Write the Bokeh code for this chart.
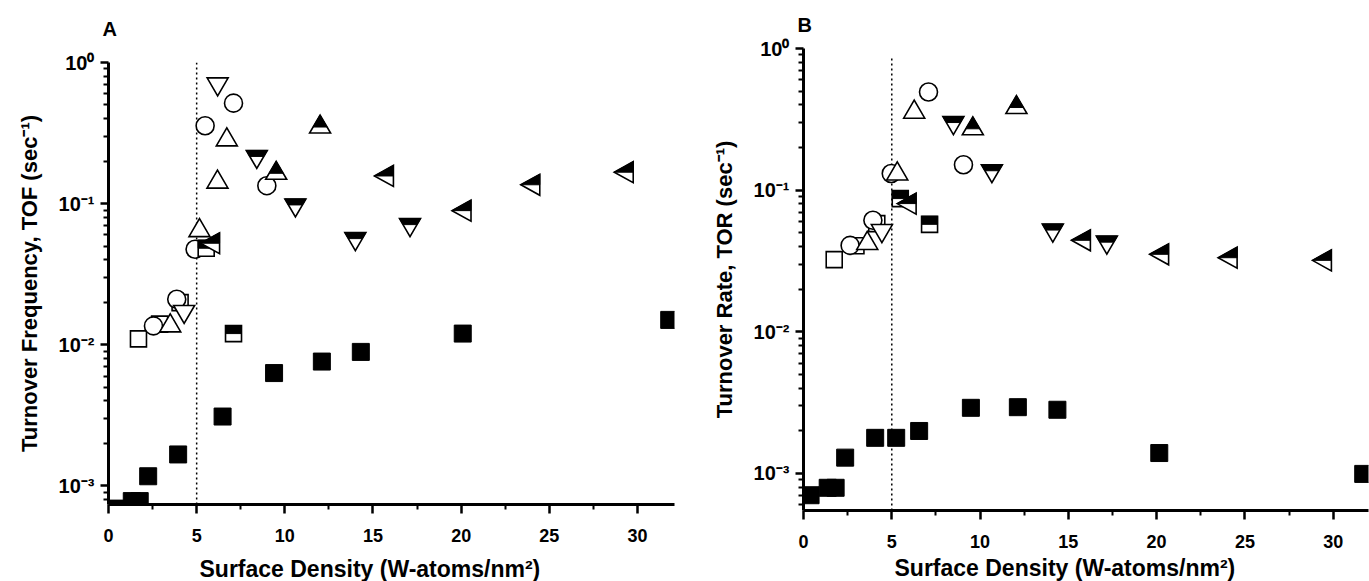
import math
from bokeh.plotting import figure
from bokeh.layouts import row
from bokeh.models import FixedTicker, Title
from bokeh.embed import file_html
from bokeh.resources import INLINE

FONT = "Liberation Sans"

# ---------------- Panel A: turnover frequency ----------------
a_sq_open_x = [1.70, 2.90, 4.06]
a_sq_open_y = [0.0110, 0.0140, 0.0199]
a_circ_x = [2.55, 3.87, 4.91, 5.48, 7.09, 8.98]
a_circ_y = [0.0136, 0.0210, 0.0475, 0.356, 0.515, 0.134]
a_up_open_x = [3.50, 5.16, 6.18, 6.71]
a_up_open_y = [0.0136, 0.0644, 0.142, 0.283]
a_dn_open_x = [4.29, 6.19]
a_dn_open_y = [0.0172, 0.705]
a_sq_half_x = [5.54, 7.09]
a_sq_half_y = [0.0483, 0.0120]
a_up_half_x = [9.51, 12.0]
a_up_half_y = [0.164, 0.349]
a_dn_half_x = [8.41, 10.6, 14.0, 17.1]
a_dn_half_y = [0.216, 0.0979, 0.0565, 0.0710]
a_lt_half_x = [5.94, 15.80, 20.20, 24.10, 29.40]
a_lt_half_y = [0.0524, 0.157, 0.0892, 0.136, 0.167]
a_sq_fill_x = [0.40, 1.32, 1.77, 2.25, 3.95, 6.47, 9.39, 12.1, 14.31, 20.09, 31.8]
a_sq_fill_y = [0.00069, 0.00078, 0.00078, 0.00117, 0.00167, 0.0031, 0.0063,
               0.0076, 0.0089, 0.0120, 0.0150]

# ---------------- Panel B: turnover rate ----------------
b_sq_open_x = [1.74, 2.97, 4.15]
b_sq_open_y = [0.0323, 0.0405, 0.058]
b_circ_x = [2.64, 3.93, 4.97, 7.08, 9.06]
b_circ_y = [0.0407, 0.0612, 0.131, 0.493, 0.151]
b_up_open_x = [3.61, 5.31, 6.27]
b_up_open_y = [0.042, 0.130, 0.355]
b_dn_open_x = [4.44]
b_dn_open_y = [0.0518]
b_sq_half_x = [5.48, 7.14]
b_sq_half_y = [0.0871, 0.0573]
b_up_half_x = [9.59, 12.06]
b_up_half_y = [0.271, 0.383]
b_dn_half_x = [8.49, 10.67, 14.12, 17.18]
b_dn_half_y = [0.300, 0.137, 0.0522, 0.0429]
b_lt_half_x = [6.02, 15.89, 20.32, 24.20, 29.54]
b_lt_half_y = [0.0803, 0.0442, 0.0352, 0.0333, 0.0319]
b_sq_fill_x = [0.40, 1.37, 1.82, 2.36, 4.06, 5.25, 6.55, 9.48, 12.14, 14.38, 20.15, 31.7]
b_sq_fill_y = [0.00070, 0.00079, 0.00079, 0.00129, 0.00178, 0.00178, 0.00199,
               0.00290, 0.00293, 0.00281, 0.00139, 0.00099]

# ---------------- axes ----------------
x_major = [0, 5, 10, 15, 20, 25, 30]
x_minor = [2.5, 7.5, 12.5, 17.5, 22.5, 27.5]
y_major = [0.001, 0.01, 0.1, 1.0]
y_labels = ["10\u207b\u00b3", "10\u207b\u00b2", "10\u207b\u00b9", "10\u2070"]
y_minor = [k * 10.0 ** e for e in (-4, -3, -2, -1) for k in range(2, 10)]
monolayer_x = 5.0

x_title = "Surface Density (W-atoms/nm\u00b2)"

# marker outlines in pixels around the data point (y up), centroid-centred
TW, TH = 21.0, 18.0          # up / down triangles
LW, LH = 19.0, 21.0          # left-pointing triangle
SQ = 16.0                    # half-filled square
UP_TRI = [(-TW / 2, -TH / 3), (TW / 2, -TH / 3), (0, 2 * TH / 3)]
UP_TOP = [(-TW / 3, 0), (TW / 3, 0), (0, 2 * TH / 3)]
DN_TRI = [(-TW / 2, TH / 3), (TW / 2, TH / 3), (0, -2 * TH / 3)]
DN_TOP = [(-TW / 2, TH / 3), (TW / 2, TH / 3), (TW / 3, 0), (-TW / 3, 0)]
LT_TRI = [(-2 * LW / 3, 0), (LW / 3, LH / 2), (LW / 3, -LH / 2)]
LT_TOP = [(-2 * LW / 3, 0), (LW / 3, LH / 2), (LW / 3, 0)]
SQ_TOP = [(-SQ / 2, 0), (SQ / 2, 0), (SQ / 2, SQ / 2), (-SQ / 2, SQ / 2)]

TOP_BORDER = 72


def outline_at(xs, ys, shape, ppx, ppd):
    """Place a pixel-sized outline around each data point (linear x, log y)."""
    px, py = [], []
    for x, y in zip(xs, ys):
        px.append([x + dx / ppx for dx, dy in shape])
        py.append([y * 10 ** (dy / ppd) for dx, dy in shape])
    return px, py


def panel(letter, ylabel, x_end, y_lo, fw, fh, left, right, bottom,
          letter_standoff, xtitle_standoff, data, line_top):
    p = figure(x_range=(0, x_end), y_range=(y_lo, 1.0), y_axis_type="log",
               frame_width=fw, frame_height=fh,
               min_border_left=left, min_border_right=right,
               min_border_top=TOP_BORDER, min_border_bottom=bottom,
               output_backend="svg", toolbar_location=None)
    p.outline_line_color = None
    p.xgrid.visible = False
    p.ygrid.visible = False
    p.background_fill_color = "white"
    p.border_fill_color = "white"

    for ax in (p.xaxis[0], p.yaxis[0]):
        ax.axis_line_width = 3
        ax.axis_line_color = "black"
        ax.major_tick_line_width = 2.5
        ax.minor_tick_line_width = 2
        ax.major_tick_in = 0
        ax.minor_tick_in = 0
        ax.major_label_text_font = FONT
        ax.major_label_text_font_style = "bold"
        ax.major_label_text_color = "black"
        ax.axis_label_text_font = FONT
        ax.axis_label_text_font_style = "bold"
        ax.axis_label_text_color = "black"
        ax.axis_label_text_font_size = "22px"

    xa = p.xaxis[0]
    xa.ticker = FixedTicker(ticks=x_major, minor_ticks=x_minor)
    xa.major_tick_out = 9
    xa.minor_tick_out = 5
    xa.major_label_text_font_size = "18px"
    xa.major_label_standoff = 15

    ya = p.yaxis[0]
    ya.ticker = FixedTicker(ticks=y_major, minor_ticks=y_minor)
    ya.major_label_overrides = {v: s for v, s in zip(y_major, y_labels)}
    ya.major_tick_out = 8
    ya.minor_tick_out = 5
    ya.major_label_text_font_size = "20px"
    ya.major_label_standoff = 6
    ya.axis_label = ylabel
    ya.axis_label_standoff = 14

    # panel letter above the frame, x title below the axis
    p.add_layout(Title(text=letter, align="left", offset=-6,
                       standoff=letter_standoff, text_font=FONT,
                       text_font_size="20px", text_font_style="bold",
                       text_color="black"), "above")
    p.add_layout(Title(text=x_title, align="left", offset=91,
                       vertical_align="top", standoff=xtitle_standoff,
                       text_font=FONT, text_font_size="23px",
                       text_font_style="bold", text_color="black"), "below")

    ppx = fw / x_end
    ppd = fh / (0 - math.log10(y_lo))

    # monolayer marker line
    p.segment(x0=[monolayer_x], y0=[y_lo], x1=[monolayer_x], y1=[line_top],
              line_color="black", line_width=1.5, line_dash="2 3")

    (sqx, sqy, cx, cy, ux, uy, dx_, dy_, hsx, hsy, hux, huy,
     hdx, hdy, hlx, hly, fx, fy) = data

    open_kw = dict(fill_color="white", line_color="black", line_width=1.6,
                   line_join="miter")
    black_kw = dict(fill_color="black", line_color="black", line_width=1,
                    line_join="miter")

    p.scatter(sqx, sqy, marker="square", size=SQ, **open_kw)
    p.scatter(cx, cy, marker="circle", size=18, fill_color="white",
              line_color="black", line_width=1.6)
    xs, ys = outline_at(ux, uy, UP_TRI, ppx, ppd)
    p.patches(xs, ys, **open_kw)
    xs, ys = outline_at(dx_, dy_, DN_TRI, ppx, ppd)
    p.patches(xs, ys, **open_kw)

    p.scatter(hsx, hsy, marker="square", size=SQ, **open_kw)
    xs, ys = outline_at(hsx, hsy, SQ_TOP, ppx, ppd)
    p.patches(xs, ys, **black_kw)

    xs, ys = outline_at(hux, huy, UP_TRI, ppx, ppd)
    p.patches(xs, ys, **open_kw)
    xs, ys = outline_at(hux, huy, UP_TOP, ppx, ppd)
    p.patches(xs, ys, **black_kw)

    xs, ys = outline_at(hdx, hdy, DN_TRI, ppx, ppd)
    p.patches(xs, ys, **open_kw)
    xs, ys = outline_at(hdx, hdy, DN_TOP, ppx, ppd)
    p.patches(xs, ys, **black_kw)

    xs, ys = outline_at(hlx, hly, LT_TRI, ppx, ppd)
    p.patches(xs, ys, **open_kw)
    xs, ys = outline_at(hlx, hly, LT_TOP, ppx, ppd)
    p.patches(xs, ys, **black_kw)

    p.scatter(fx, fy, marker="square", size=17, fill_color="black",
              line_color="black", line_width=1)
    return p


pa = panel("A", "Turnover Frequency, TOF (sec\u207b\u00b9)", 32.1, 7.38e-4,
           566, 442, 108, 10, 78, 46, 22,
           (a_sq_open_x, a_sq_open_y, a_circ_x, a_circ_y, a_up_open_x, a_up_open_y,
            a_dn_open_x, a_dn_open_y, a_sq_half_x, a_sq_half_y, a_up_half_x,
            a_up_half_y, a_dn_half_x, a_dn_half_y, a_lt_half_x, a_lt_half_y,
            a_sq_fill_x, a_sq_fill_y), 1.0)

pb = panel("B", "Turnover Rate, TOR (sec\u207b\u00b9)", 32.0, 5.46e-4,
           565, 462, 119, 1, 71, 25, 9,
           (b_sq_open_x, b_sq_open_y, b_circ_x, b_circ_y, b_up_open_x, b_up_open_y,
            b_dn_open_x, b_dn_open_y, b_sq_half_x, b_sq_half_y, b_up_half_x,
            b_up_half_y, b_dn_half_x, b_dn_half_y, b_lt_half_x, b_lt_half_y,
            b_sq_fill_x, b_sq_fill_y), 0.87)

# frames start at different heights on the page
pa.margin = (62 - TOP_BORDER, 0, 0, 0)
pb.margin = (48 - TOP_BORDER, 0, 0, 0)

layout = row(pa, pb)
open("out.html", "w").write(file_html(layout, INLINE))
